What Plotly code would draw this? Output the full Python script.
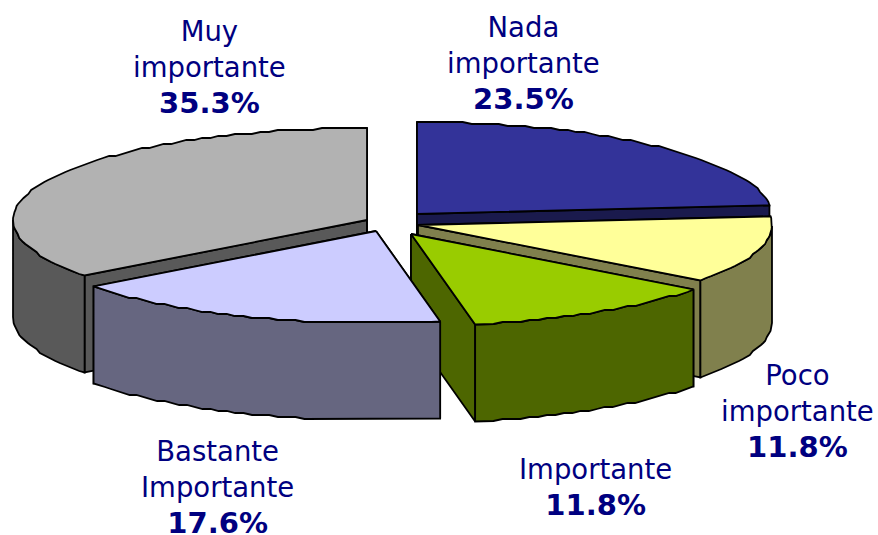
import numpy as np
import plotly.graph_objects as go

labels = ["Nada<br>importante", "Poco<br>importante", "Importante", "Bastante<br>Importante", "Muy<br>importante"]
values = [23.5, 11.8, 11.8, 17.6, 35.3]
top_colors = ["#333399", "#FFFF99", "#99CC00", "#CCCCFF", "#B2B2B2"]
side_colors = ["#1A1A4D", "#80804D", "#4D6600", "#666680", "#595959"]
# pie apex of each exploded slice, on the page
apex_x = [417, 418, 411, 376, 367]
apex_y = [214, 225, 234, 231, 220]
label_x = [523, 797, 595, 217, 209]
label_y = [63, 411, 487, 487, 67]
RX, RY, DEPTH = 354, 92, 97
STEP = 2.0   # small vertical steps of the rim, as in the reference raster

starts = np.concatenate([[0], np.cumsum(values)[:-1]]) / sum(values) * 2 * np.pi
ends = np.cumsum(values) / sum(values) * 2 * np.pi

fig = go.Figure()


def poly(xs, ys, color):
    fig.add_trace(go.Scatter(x=xs, y=ys, mode="lines", fill="toself", fillcolor=color,
                             line=dict(color="black", width=1.8), hoverinfo="skip", showlegend=False))


for i in [4, 0, 1, 2, 3]:
    n = max(8, int(values[i] * 2.5))
    t = np.linspace(starts[i], ends[i], n)
    ax, ay = apex_x[i], apex_y[i]
    rx = ax + RX * np.sin(t)
    ry = ay - RY * np.cos(t)
    ry[1:-1] = np.round(ry[1:-1] / STEP) * STEP
    # cut faces
    for k in (0, -1):
        poly([ax, rx[k], rx[k], ax, ax], [ay, ry[k], ry[k] + DEPTH, ay + DEPTH, ay], side_colors[i])
    # outer rim, only the part facing the viewer
    vis = np.cos(t) <= 0
    if vis.any():
        fx, fy = rx[vis], ry[vis]
        poly(np.r_[fx, fx[::-1], fx[0]], np.r_[fy, fy[::-1] + DEPTH, fy[0]], side_colors[i])
    # top face
    poly(np.r_[ax, rx, ax], np.r_[ay, ry, ay], top_colors[i])

for i, lab in enumerate(labels):
    fig.add_annotation(x=label_x[i], y=label_y[i], showarrow=False, align="center",
                       text=f"{lab}<br><b><span style='font-size:29px'>{values[i]:.1f}%</span></b>",
                       font=dict(family="DejaVu Sans", size=27.5, color="#000080"))

fig.update_layout(width=878, height=535, margin=dict(l=0, r=0, t=0, b=0),
                  paper_bgcolor="white", plot_bgcolor="white",
                  xaxis=dict(range=[0, 878], visible=False),
                  yaxis=dict(range=[535, 0], visible=False))
fig.write_html("out.html", config=dict(displayModeBar=False),
               post_script="document.body.style.margin='0';document.body.style.overflow='hidden';")
